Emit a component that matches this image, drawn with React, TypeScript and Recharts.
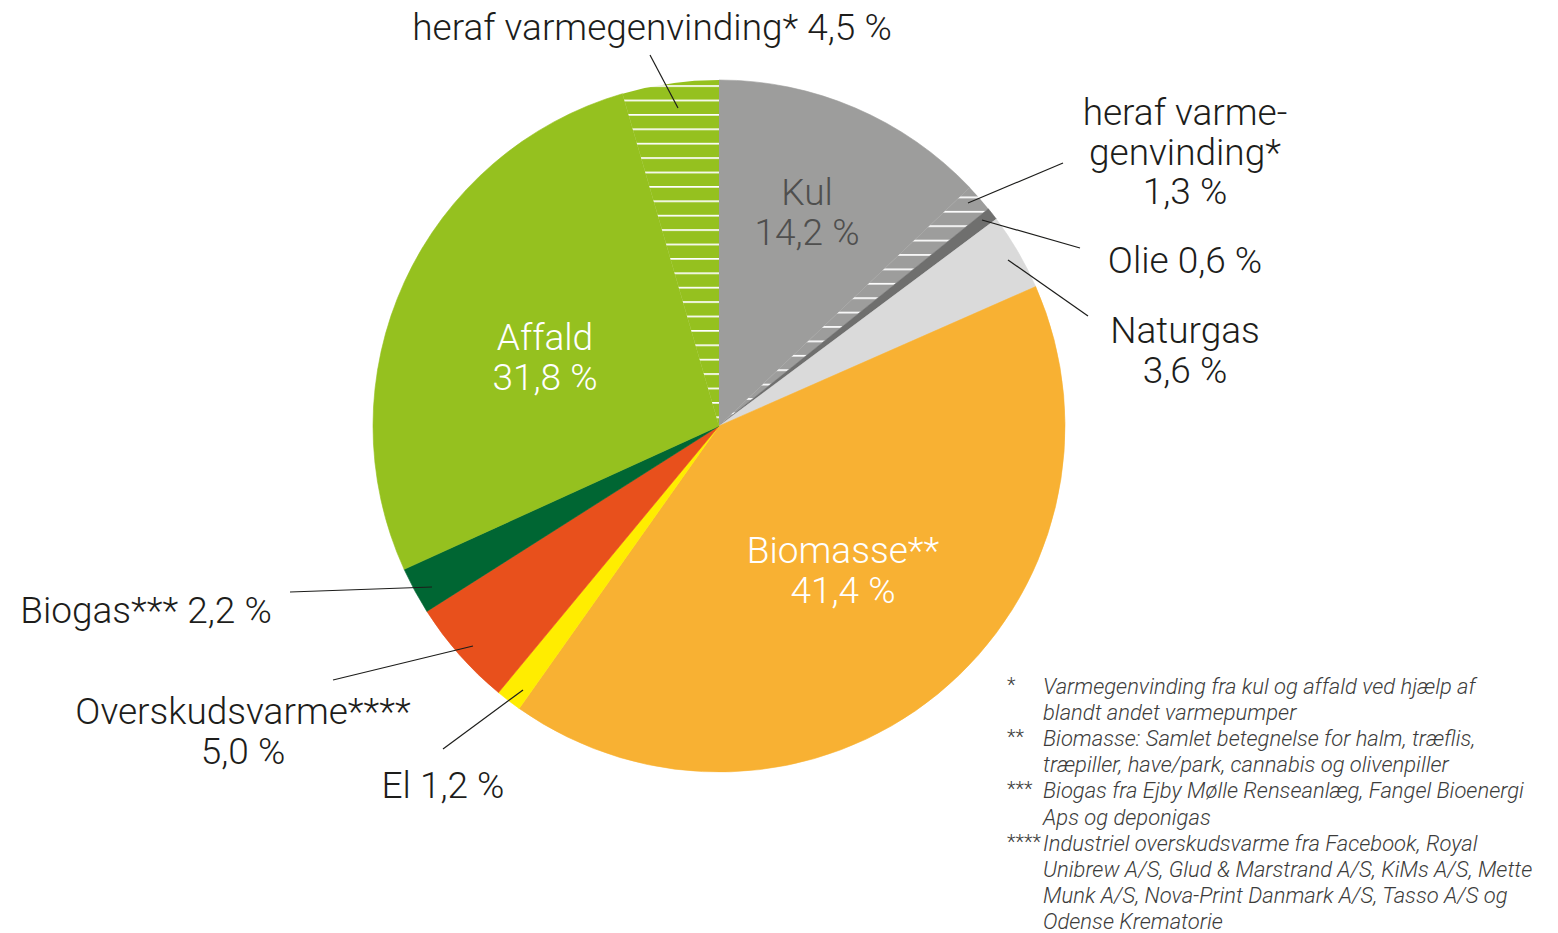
import React from 'react';
import { PieChart, Pie, Cell } from 'recharts';

// ---- data ----
const categories = ['Kul', 'Olie', 'Naturgas', 'Biomasse**', 'El', 'Overskudsvarme****', 'Biogas***', 'Affald'];
const shares = [14.2, 0.6, 3.6, 41.4, 1.2, 5.0, 2.2, 31.8];
// "heraf varmegenvinding*" part of each category (hatched)
const recoveredShares = [1.3, 0, 0, 0, 0, 0, 0, 4.5];

// ---- styles ----
const colors = ['#9d9d9c', '#6f6f6e', '#dadada', '#f8b133', '#ffed00', '#e8501c', '#006633', '#95c11f'];
const hatchOffsets: Record<string, number> = { Kul: 9.3, Affald: 13.2 };
const FONT = 'Roboto, "Open Sans", sans-serif';
const TEXT = '#1d1d1b';

const fmt = (v: number) => v.toFixed(1).replace('.', ',') + ' %';

type Slice = { sliceId: string; name: string; value: number; total: number; color: string; hatched: boolean };

const pieData: Slice[] = [];
categories.forEach((name, i) => {
  const rec = recoveredShares[i];
  pieData.push({ sliceId: name, name, value: +(shares[i] - rec).toFixed(2), total: shares[i], color: colors[i], hatched: false });
  if (rec > 0) {
    pieData.push({ sliceId: name + '-rec', name, value: rec, total: rec, color: colors[i], hatched: true });
  }
});

// ---- label layout (offsets from the pie centre) ----
type LabelSpec = {
  dx: number; dy: number; lh?: number; color?: string;
  lines: (name: string, pct: string) => string[];
  leader?: [number, number, number, number];
};
const labelLayout: Record<string, LabelSpec> = {
  'Kul': { dx: 88, dy: -221, lh: 40, color: '#4f4f4e', lines: (n, p) => [n, p] },
  'Kul-rec': { dx: 466, dy: -301, lh: 39.5, lines: (_n, p) => ['heraf varme-', 'genvinding*', p], leader: [249, -223, 344, -263] },
  'Olie': { dx: 466, dy: -153, lines: (n, p) => [n + ' ' + p], leader: [263, -206, 361, -178] },
  'Naturgas': { dx: 466, dy: -83, lh: 39.5, lines: (n, p) => [n, p], leader: [289, -166, 369, -110] },
  'Biomasse**': { dx: 124, dy: 137, lh: 39.5, color: '#ffffff', lines: (n, p) => [n, p] },
  'El': { dx: -276, dy: 372, lines: (n, p) => [n + ' ' + p], leader: [-276, 323, -196, 264] },
  'Overskudsvarme****': { dx: -476, dy: 298, lh: 39.5, lines: (n, p) => [n, p], leader: [-386, 254, -246, 220] },
  'Biogas***': { dx: -573, dy: 197, lines: (n, p) => [n + ' ' + p], leader: [-429, 166, -287, 161] },
  'Affald': { dx: -174, dy: -76, lh: 40, color: '#ffffff', lines: (n, p) => [n, p] },
  'Affald-rec': { dx: -67, dy: -386, lines: (_n, p) => ['heraf varmegenvinding* ' + p], leader: [-69, -371, -41, -318] },
};

const footnotes: { mark: string; lines: string[] }[] = [
  { mark: '*', lines: ['Varmegenvinding fra kul og affald ved hjælp af', 'blandt andet varmepumper'] },
  { mark: '**', lines: ['Biomasse: Samlet betegnelse for halm, træflis,', 'træpiller, have/park, cannabis og olivenpiller'] },
  { mark: '***', lines: ['Biogas fra Ejby Mølle Renseanlæg, Fangel Bioenergi', 'Aps og deponigas'] },
  { mark: '****', lines: ['Industriel overskudsvarme fra Facebook, Royal', 'Unibrew A/S, Glud & Marstrand A/S, KiMs A/S, Mette', 'Munk A/S, Nova-Print Danmark A/S, Tasso A/S og', 'Odense Krematorie'] },
];

const renderLabel = (props: any) => {
  const { cx, cy, index } = props;
  const slice = pieData[index];
  if (!slice) return null;
  const spec = labelLayout[slice.sliceId];
  if (!spec) return null;
  const lines = spec.lines(slice.name, fmt(slice.total));
  const x = cx + spec.dx;
  return (
    <g key={'lbl-' + slice.sliceId}>
      {spec.leader && (
        <line
          x1={cx + spec.leader[0]} y1={cy + spec.leader[1]}
          x2={cx + spec.leader[2]} y2={cy + spec.leader[3]}
          stroke={TEXT} strokeWidth={1.2}
        />
      )}
      <text x={x} y={cy + spec.dy} textAnchor="middle" fill={spec.color || TEXT}
        fontFamily={FONT} fontWeight={300} fontSize={37}>
        {lines.map((l, i) => (
          <tspan key={i} x={x} dy={i === 0 ? 0 : spec.lh}>{l}</tspan>
        ))}
      </text>
    </g>
  );
};

const CX = 719;
const CY = 426;

export default function App() {
  let fnLine = 0;
  return (
    <div style={{ position: 'absolute', left: 0, top: 0, width: 1558, height: 933, background: '#fff' }}>
      <PieChart width={1558} height={933} margin={{ top: 0, right: 0, bottom: 0, left: 0 }}>
        <defs>
          {categories.map((name, i) =>
            recoveredShares[i] > 0 ? (
              <pattern key={name} id={'hatch-' + name} patternUnits="userSpaceOnUse"
                width={20} height={14.4} y={hatchOffsets[name] ?? 0}>
                <rect x={0} y={0} width={20} height={14.4} fill={colors[i]} />
                <rect x={0} y={0} width={20} height={1.7} fill="#ffffff" />
              </pattern>
            ) : null
          )}
        </defs>
        <Pie
          data={pieData}
          dataKey="value"
          nameKey="sliceId"
          cx={CX}
          cy={CY}
          outerRadius={346}
          startAngle={90}
          endAngle={-270}
          isAnimationActive={false}
          label={renderLabel}
          labelLine={false}
        >
          {pieData.map((s) => (
            <Cell key={s.sliceId}
              fill={s.hatched ? `url(#hatch-${s.name})` : s.color}
              stroke={s.hatched ? 'none' : s.color}
              strokeWidth={s.hatched ? 0 : 0.6} />
          ))}
        </Pie>
      </PieChart>
      <svg width={1558} height={933} style={{ position: 'absolute', left: 0, top: 0, pointerEvents: 'none' }}>
        {footnotes.map((f) => {
          const start = fnLine;
          fnLine += f.lines.length;
          const y0 = 694 + start * 26.1;
          return (
            <g key={f.mark}>
              <text x={1007} y={y0 - 2} fill="#3c3c3b" fontFamily={FONT} fontWeight={300} fontSize={20}>{f.mark}</text>
              {f.lines.map((l, j) => (
                <text key={j} x={1043} y={y0 + j * 26.1} fill="#3c3c3b" fontFamily={FONT}
                  fontWeight={300} fontStyle="italic" fontSize={22}>{l}</text>
              ))}
            </g>
          );
        })}
      </svg>
    </div>
  );
}
